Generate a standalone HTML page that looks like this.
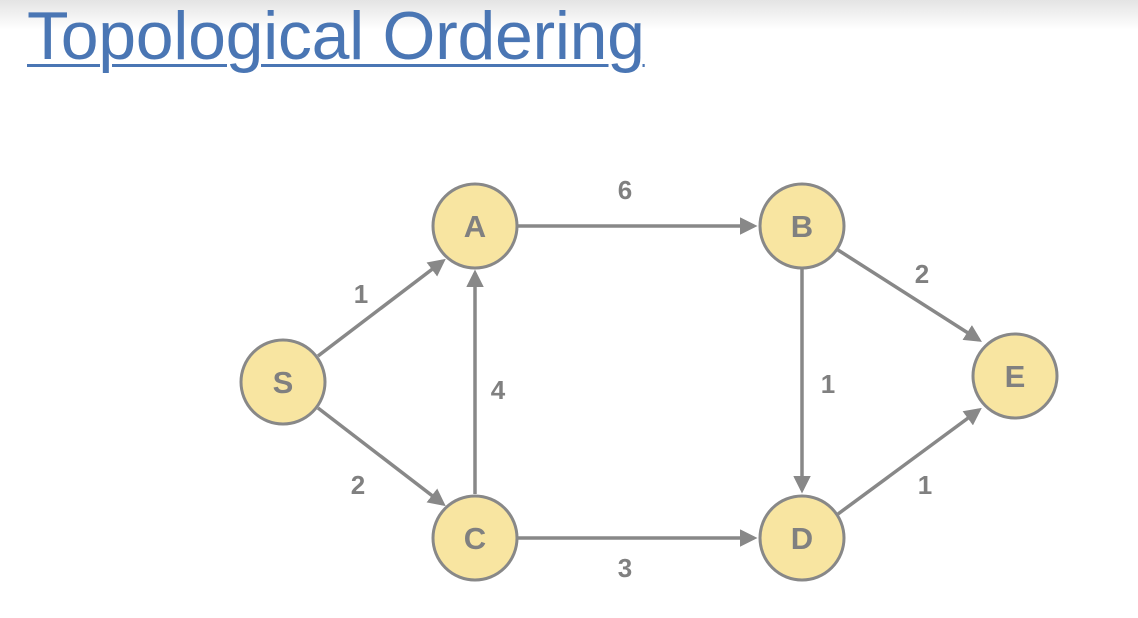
<!DOCTYPE html>
<html><head><style>
html,body{margin:0;padding:0;width:1138px;height:618px;overflow:hidden;background:#fff;}
.top{position:absolute;left:0;top:0;width:1138px;height:30px;background:linear-gradient(#e4e4e4,#fff);}
h1{position:absolute;left:27px;top:-4px;margin:0;font:68px "Liberation Sans",sans-serif;line-height:80px;color:#4a76b4;text-decoration:underline;text-decoration-thickness:3px;text-underline-offset:5px;letter-spacing:-0.3px;}
svg{position:absolute;left:0;top:0;}
</style></head><body>
<div class="top"></div>
<h1>Topological Ordering</h1>
<svg width="1138" height="618" font-family="Liberation Sans, sans-serif" font-weight="bold">
<defs><marker id="m" markerWidth="5" markerHeight="5" refX="4" refY="2.5" orient="auto" markerUnits="strokeWidth"><path d="M0,0 L5,2.5 L0,5 z" fill="#888"/></marker></defs>
<g stroke="#888" stroke-width="3.5" marker-end="url(#m)">
<line x1="318" y1="356" x2="443" y2="261"/>
<line x1="318" y1="408" x2="443" y2="504"/>
<line x1="475" y1="494" x2="475" y2="273"/>
<line x1="518" y1="226" x2="754" y2="226"/>
<line x1="518" y1="538" x2="754" y2="538"/>
<line x1="802" y1="268" x2="802" y2="490"/>
<line x1="838" y1="250" x2="979" y2="340"/>
<line x1="838" y1="514" x2="979" y2="410"/>
</g>
<g fill="#f8e5a1" stroke="#888" stroke-width="3">
<circle cx="283" cy="382" r="42"/><circle cx="475" cy="226" r="42"/><circle cx="802" cy="226" r="42"/>
<circle cx="475" cy="538" r="42"/><circle cx="802" cy="538" r="42"/><circle cx="1015" cy="376" r="42"/>
</g>
<g fill="#808080" font-size="31" text-anchor="middle">
<text x="283" y="393">S</text><text x="475" y="237">A</text><text x="802" y="237">B</text>
<text x="475" y="549">C</text><text x="802" y="549">D</text><text x="1015" y="387">E</text>
</g>
<g fill="#808080" font-size="26" text-anchor="middle">
<text x="361" y="303">1</text><text x="358" y="494">2</text><text x="498" y="399">4</text>
<text x="625" y="199">6</text><text x="625" y="577">3</text><text x="828" y="393">1</text>
<text x="922" y="283">2</text><text x="925" y="494">1</text>
</g>
</svg>
</body></html>
